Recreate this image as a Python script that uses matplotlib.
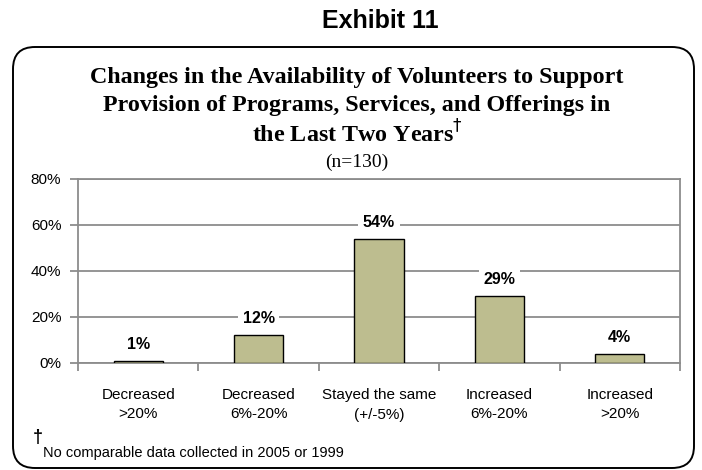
import matplotlib
matplotlib.use("Agg")
import matplotlib.pyplot as plt
from matplotlib import font_manager
from matplotlib.patches import FancyBboxPatch

categories = ["Decreased\n>20%", "Decreased\n6%-20%", "Stayed the same\n(+/-5%)",
              "Increased\n6%-20%", "Increased\n>20%"]
values = [1, 12, 54, 29, 4]
y_ticks = [0, 20, 40, 60, 80]

installed = {f.name for f in font_manager.fontManager.ttflist}
sans = "Liberation Sans Narrow" if "Liberation Sans Narrow" in installed else "Liberation Sans"
serif = "Liberation Serif"

W, H = 702, 470
fig = plt.figure(figsize=(W / 100, H / 100), dpi=100)

# rounded frame around the chart (pixel units via inches)
frame = FancyBboxPatch((0.13, 0.02), 6.81, 4.21,
                       boxstyle="round,pad=0,rounding_size=0.22",
                       transform=fig.dpi_scale_trans, facecolor="white",
                       edgecolor="black", linewidth=1.4, zorder=-1)
fig.patches.append(frame)

fig.text(380 / W, 1 - 21 / H, "Exhibit 11", ha="center", va="center",
         fontsize=18, fontweight="bold", family=sans)

title_lines = ["Changes in the Availability of Volunteers to Support",
               "Provision of Programs, Services, and Offerings in",
               "the Last Two Years$^{\\dagger}$"]
for i, line in enumerate(title_lines):
    fig.text(357 / W, 1 - (78 + 28 * i) / H, line, ha="center", va="center",
             fontsize=17.3, fontweight="bold", family=serif)
fig.text(357 / W, 1 - 162 / H, "(n=130)", ha="center", va="center",
         fontsize=14, family=serif)

ax = fig.add_axes([78 / W, 1 - 363 / H, 602 / W, 184 / H])
x = range(len(values))
ax.bar(x, values, width=0.41, color="#BDBD8F", edgecolor="black",
       linewidth=1.0, zorder=3)
for xi, v in zip(x, values):
    ax.annotate(f"{v}%", (xi, v), xytext=(0, 12), textcoords="offset points",
                ha="center", va="center", fontsize=11.5, fontweight="bold",
                family=sans, zorder=4,
                bbox=dict(facecolor="white", edgecolor="none", pad=3.5))

ax.set_xlim(-0.5, len(values) - 0.5)
ax.set_ylim(0, 80)
ax.set_yticks(y_ticks)
ax.set_yticklabels([f"{t}%" for t in y_ticks], family=sans, fontsize=11)
ax.yaxis.grid(True, color="#8C8C8C", linewidth=1.3, zorder=0)
ax.set_axisbelow(True)
ax.tick_params(axis="y", length=6, width=1.3, color="#8C8C8C", pad=6)

ax.set_xticks([i - 0.5 for i in range(len(values) + 1)])
ax.set_xticklabels([])
ax.set_xticks(list(x), minor=True)
ax.set_xticklabels(categories, minor=True, family=sans, fontsize=11,
                   linespacing=1.5)
ax.tick_params(axis="x", which="major", length=6, width=1.3, color="#8C8C8C")
ax.tick_params(axis="x", which="minor", length=0, pad=18)
for s in ax.spines.values():
    s.set_color("#8C8C8C")
    s.set_linewidth(1.3)

fig.text(33 / W, 1 - 437 / H, "\u2020", ha="left", va="center",
         fontsize=13, fontweight="bold", family=sans)
fig.text(43 / W, 1 - 453 / H, "No comparable data collected in 2005 or 1999",
         ha="left", va="center", fontsize=10.5, family=sans)

fig.savefig("out.png", dpi=100)
